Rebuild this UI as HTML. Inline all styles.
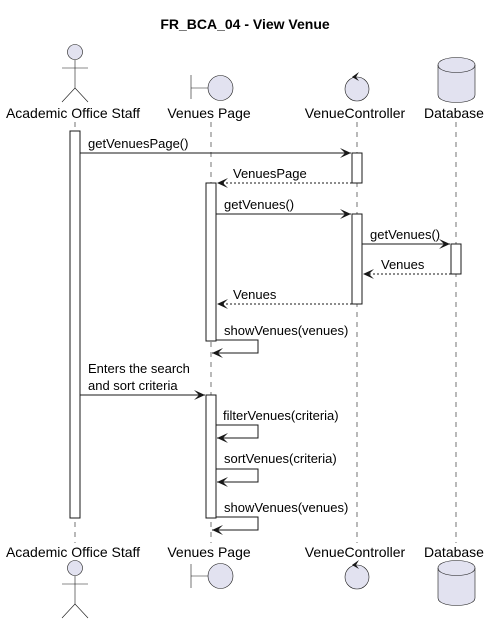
<!DOCTYPE html>
<html><head><meta charset="utf-8"><style>
html,body{margin:0;padding:0;background:#fff}
svg{display:block}
text{font-family:"Liberation Sans",sans-serif;font-size:14px;fill:#000}
.m{font-size:13px}
</style></head><body>
<svg width="490" height="624" viewBox="0 0 490 624" xmlns="http://www.w3.org/2000/svg">
<defs>
<marker id="a" viewBox="0 0 12 10" refX="11" refY="5" markerWidth="12" markerHeight="10" markerUnits="userSpaceOnUse" orient="auto">
<path d="M0,0 L11,5 L0,10 L5,5 Z" fill="#181818"/>
</marker>
</defs>
<text x="245" y="29" text-anchor="middle" style="font-weight:bold;font-size:14px">FR_BCA_04 - View Venue</text>

<g stroke="#181818" stroke-width="0.6" stroke-dasharray="5,5">
<line x1="75" y1="122" x2="75" y2="543"/>
<line x1="211" y1="122" x2="211" y2="543"/>
<line x1="357" y1="122" x2="357" y2="543"/>
<line x1="456" y1="122" x2="456" y2="543"/>
</g>

<g fill="#E2E2F0" stroke="#181818" stroke-width="0.6">
<circle cx="75" cy="52" r="7.5"/>
<line x1="75" y1="60" x2="75" y2="88"/>
<line x1="62" y1="68" x2="88" y2="68"/>
<line x1="75" y1="88" x2="62" y2="102"/>
<line x1="75" y1="88" x2="88" y2="102"/>
<line x1="191" y1="75" x2="191" y2="99"/>
<line x1="191" y1="88" x2="208" y2="88"/>
<circle cx="220.5" cy="88" r="12.5"/>
<circle cx="357" cy="89" r="12"/>
<path d="M438,65 C438,55 475,55 475,65 L475,95 C475,105 438,105 438,95 Z"/>
<path d="M438,65 C438,75 475,75 475,65" fill="none"/>
</g>
<path d="M359,72 L352,77 L359,81 L356,77 Z" fill="#181818"/>
<text x="73" y="118" text-anchor="middle">Academic Office Staff</text>
<text x="209" y="118" text-anchor="middle">Venues Page</text>
<text x="355" y="118" text-anchor="middle">VenueController</text>
<text x="454" y="118" text-anchor="middle">Database</text>

<g fill="#E2E2F0" stroke="#181818" stroke-width="0.6">
<circle cx="75" cy="568" r="7.5"/>
<line x1="75" y1="576" x2="75" y2="604"/>
<line x1="62" y1="584" x2="88" y2="584"/>
<line x1="75" y1="604" x2="62" y2="618"/>
<line x1="75" y1="604" x2="88" y2="618"/>
<line x1="191" y1="564" x2="191" y2="588"/>
<line x1="191" y1="576" x2="208" y2="576"/>
<circle cx="220.5" cy="576" r="12.5"/>
<circle cx="357" cy="577" r="12"/>
<path d="M438,568 C438,558 475,558 475,568 L475,598 C475,608 438,608 438,598 Z"/>
<path d="M438,568 C438,578 475,578 475,568" fill="none"/>
</g>
<path d="M359,560 L352,565 L359,569 L356,565 Z" fill="#181818"/>
<text x="73" y="557" text-anchor="middle">Academic Office Staff</text>
<text x="209" y="557" text-anchor="middle">Venues Page</text>
<text x="355" y="557" text-anchor="middle">VenueController</text>
<text x="454" y="557" text-anchor="middle">Database</text>

<g fill="#fff" stroke="#181818" stroke-width="1">
<rect x="70" y="131" width="10" height="387"/>
<rect x="352" y="153" width="10" height="30"/>
<rect x="206" y="183" width="10" height="158"/>
<rect x="352" y="214" width="10" height="90"/>
<rect x="451" y="244" width="10" height="30"/>
<rect x="206" y="395" width="10" height="123"/>
</g>

<g stroke="#181818" stroke-width="1" fill="none" marker-end="url(#a)">
<line x1="80" y1="153" x2="351" y2="153"/>
<line x1="352" y1="183" x2="217" y2="183" stroke-dasharray="2,2"/>
<line x1="216" y1="214" x2="351" y2="214"/>
<line x1="362" y1="244" x2="450" y2="244"/>
<line x1="451" y1="274" x2="363" y2="274" stroke-dasharray="2,2"/>
<line x1="352" y1="304" x2="217" y2="304" stroke-dasharray="2,2"/>
<polyline points="216,340 258,340 258,353 212,353"/>
<line x1="80" y1="395" x2="205" y2="395"/>
<polyline points="216,425 258,425 258,438 217,438"/>
<polyline points="216,469 258,469 258,482 217,482"/>
<polyline points="216,517 258,517 258,530 212,530"/>
</g>
<text class="m" x="88" y="148">getVenuesPage()</text>
<text class="m" x="233" y="178">VenuesPage</text>
<text class="m" x="224" y="209">getVenues()</text>
<text class="m" x="370" y="239">getVenues()</text>
<text class="m" x="381" y="269">Venues</text>
<text class="m" x="233" y="299">Venues</text>
<text class="m" x="224" y="335">showVenues(venues)</text>
<text class="m" x="88" y="373">Enters the search</text>
<text class="m" x="88" y="390">and sort criteria</text>
<text class="m" x="223" y="420">filterVenues(criteria)</text>
<text class="m" x="224" y="463">sortVenues(criteria)</text>
<text class="m" x="224" y="512">showVenues(venues)</text>
</svg>
</body></html>
